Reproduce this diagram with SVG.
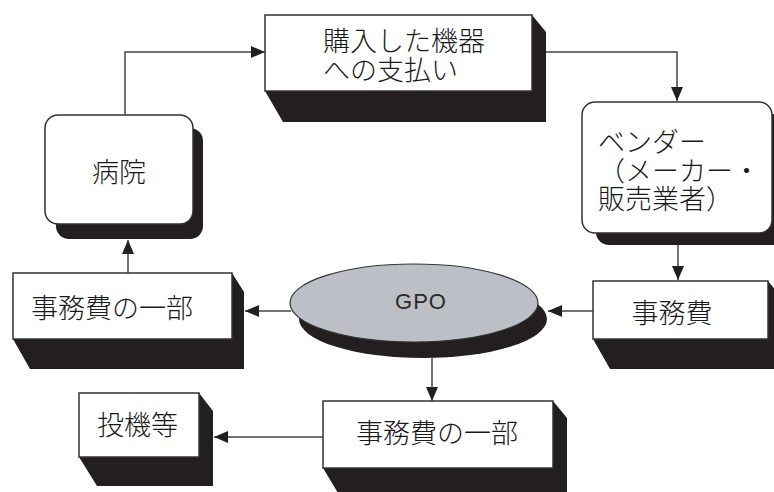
<svg xmlns="http://www.w3.org/2000/svg" width="774" height="492" viewBox="0 0 774 492">
<defs>
<style>
.box{fill:#fff;stroke:#333;stroke-width:1.5}
.sh{fill:#231f20}
.t{font-family:"Noto Sans CJK JP","Noto Sans",sans-serif;font-size:27px;font-weight:300;fill:#1a1a1a}
.c{stroke:#444;stroke-width:1.5;fill:none;marker-end:url(#ah)}
</style>
<marker id="ah" markerUnits="userSpaceOnUse" markerWidth="14" markerHeight="12" refX="14" refY="6" orient="auto">
<path d="M0,0 L14,6 L0,12 Z" fill="#231f20"/>
</marker>
</defs>
<rect width="774" height="492" fill="#fff"/>
<g id="connectors">
<path class="c" d="M125,115 V52 H265"/>
<path class="c" d="M533,52 H677 V101"/>
<path class="c" d="M678,245 V280"/>
<path class="c" d="M593,311 H548"/>
<path class="c" d="M291,311 H245"/>
<path class="c" d="M128,273 V240"/>
<path class="c" d="M432,358 V401"/>
<path class="c" d="M323,437 H214"/>
</g>
<g id="purchase">
<polygon class="sh" points="265,91 283,122 546,122 546,32 532,15 532,91"/>
<rect class="box" x="265" y="15" width="267" height="76"/>
<text class="t" x="323" y="51">購入した機器</text>
<text class="t" x="323" y="80">への支払い</text>
</g>
<g id="hospital">
<rect class="sh" x="56" y="128" width="147" height="111" rx="13"/>
<rect class="box" x="45" y="115" width="148" height="109" rx="13"/>
<text class="t" x="119" y="182" text-anchor="middle">病院</text>
</g>
<g id="vendor">
<rect class="sh" x="596" y="114" width="190" height="131" rx="13"/>
<rect class="box" x="582" y="102" width="190" height="131" rx="13"/>
<text class="t" x="598" y="152">ベンダー</text>
<text class="t" x="598" y="181">（メーカー・</text>
<text class="t" x="598" y="209">販売業者）</text>
</g>
<g id="fee">
<polygon class="sh" points="593,339 610,369 782,369 782,298 768,281 768,339"/>
<rect class="box" x="593" y="281" width="175" height="58"/>
<text class="t" x="672" y="323" text-anchor="middle">事務費</text>
</g>
<g id="gpo">
<ellipse class="sh" cx="423" cy="319" rx="124" ry="39"/>
<ellipse cx="414" cy="303" rx="124" ry="39" fill="#bcc0c6" stroke="#333" stroke-width="1.2"/>
<text x="421" y="309" text-anchor="middle" font-family="'Liberation Sans',Arial,sans-serif" font-size="22" letter-spacing="1" fill="#2a2a2a">GPO</text>
</g>
<g id="fee-part-left">
<polygon class="sh" points="13,339 30,369 244,369 244,292 232,273 232,339"/>
<rect class="box" x="13" y="273" width="219" height="66"/>
<text class="t" x="31" y="318">事務費の一部</text>
</g>
<g id="fee-part-bottom">
<polygon class="sh" points="323,468 341,498 567,498 567,418 553,401 553,468"/>
<rect class="box" x="323" y="401" width="230" height="67"/>
<text class="t" x="356" y="443">事務費の一部</text>
</g>
<g id="speculation">
<polygon class="sh" points="79,457 97,486 213,486 213,411 199,393 199,457"/>
<rect class="box" x="79" y="393" width="120" height="64"/>
<text class="t" x="97" y="435">投機等</text>
</g>
</svg>
